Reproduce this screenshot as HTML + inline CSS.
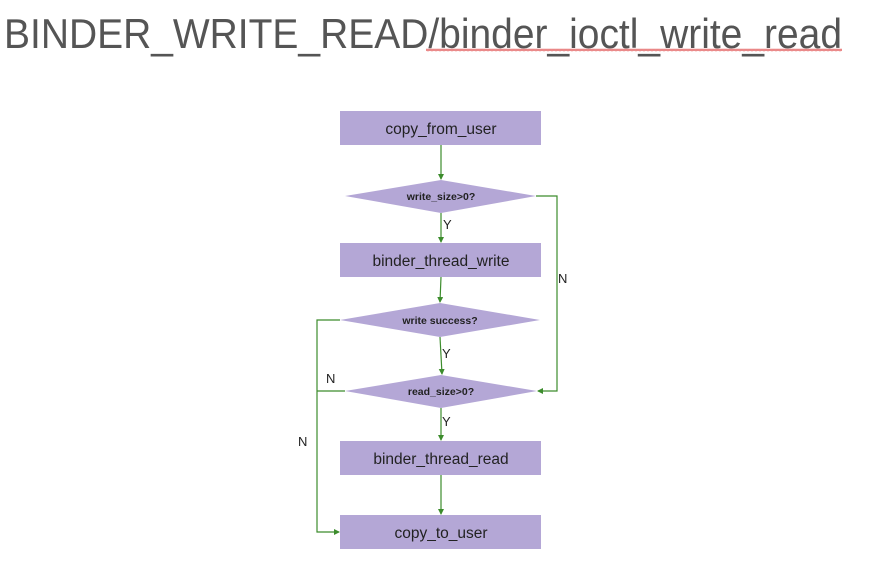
<!DOCTYPE html>
<html><head><meta charset="utf-8"><style>
html,body{margin:0;padding:0;background:#fff;width:871px;height:569px;overflow:hidden}
svg{display:block}
</style></head><body>
<svg width="871" height="569" viewBox="0 0 871 569" xmlns="http://www.w3.org/2000/svg">
<defs>
<marker id="a" markerWidth="6" markerHeight="6" refX="5" refY="3" orient="auto" markerUnits="userSpaceOnUse">
<path d="M0,0 L6,3 L0,6 z" fill="#3c8c2c"/></marker>
<pattern id="w" x="426" y="48" width="4" height="4" patternUnits="userSpaceOnUse">
<path d="M0,3 L1,1 L2,3 L3,1 L4,3" fill="none" stroke="#e05050" stroke-width="0.8"/>
</pattern>
</defs>
<text x="4" y="48" font-family="Liberation Sans, sans-serif" font-size="42" fill="#555" textLength="838" lengthAdjust="spacingAndGlyphs">BINDER_WRITE_READ/binder_ioctl_write_read</text>
<rect x="426" y="48" width="416" height="4" fill="url(#w)"/>
<g fill="none" stroke="#3c8c2c" stroke-width="1.2">
<line x1="441" y1="145" x2="441" y2="179" marker-end="url(#a)"/>
<line x1="441" y1="213" x2="441" y2="242" marker-end="url(#a)"/>
<line x1="441" y1="277" x2="440" y2="302" marker-end="url(#a)"/>
<line x1="440" y1="337" x2="442" y2="374" marker-end="url(#a)"/>
<line x1="441" y1="408" x2="441" y2="440" marker-end="url(#a)"/>
<line x1="441" y1="475" x2="441" y2="514" marker-end="url(#a)"/>
<polyline points="536,196 557,196 557,391 538,391" marker-end="url(#a)"/>
<polyline points="340,320 317,320 317,532 339,532" marker-end="url(#a)"/>
<line x1="345" y1="391" x2="317" y2="391"/>
</g>
<g fill="#b4a7d6">
<rect x="340" y="111" width="201" height="34"/>
<polygon points="345,196 441,180 536,196 441,213"/>
<rect x="340" y="243" width="201" height="34"/>
<polygon points="340,320 440,303 540,320 440,337"/>
<polygon points="345,391 441,375 537,391 441,408"/>
<rect x="340" y="441" width="201" height="34"/>
<rect x="340" y="515" width="201" height="34"/>
</g>
<g font-family="Liberation Sans, sans-serif" fill="#222" text-anchor="middle">
<text x="441" y="134" font-size="15.5">copy_from_user</text>
<text x="441" y="200" font-size="10.5" font-weight="bold">write_size&gt;0?</text>
<text x="441" y="266" font-size="15.5">binder_thread_write</text>
<text x="440" y="324" font-size="10.5" font-weight="bold">write success?</text>
<text x="441" y="395" font-size="10.5" font-weight="bold">read_size&gt;0?</text>
<text x="441" y="464" font-size="15.5">binder_thread_read</text>
<text x="441" y="538" font-size="15.5">copy_to_user</text>
</g>
<g font-family="Liberation Sans, sans-serif" font-size="13" fill="#222">
<text x="443" y="229">Y</text>
<text x="442" y="358">Y</text>
<text x="442" y="426">Y</text>
<text x="558" y="283">N</text>
<text x="326" y="383">N</text>
<text x="298" y="446">N</text>
</g>
</svg>
</body></html>
